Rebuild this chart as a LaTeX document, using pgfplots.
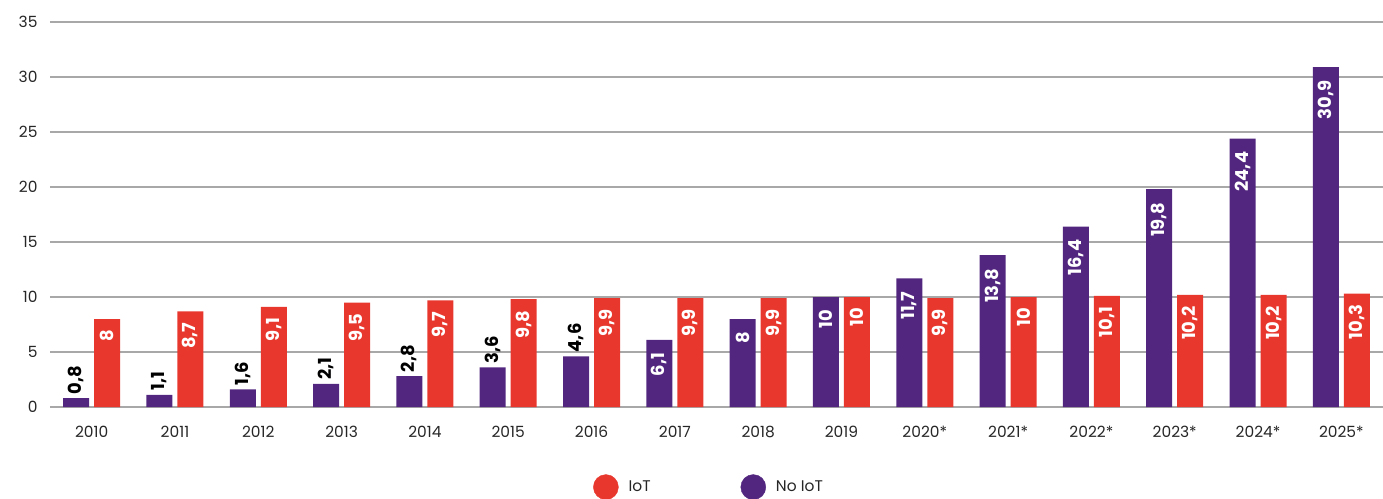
\documentclass[border=0pt]{standalone}
\usepackage{pgfplots}
\pgfplotsset{compat=1.18}
\usepackage{fontspec}
\setmainfont{Poppins}
\definecolor{iotred}{HTML}{E8382E}
\definecolor{noiot}{HTML}{52267F}
\definecolor{gridgray}{HTML}{A8A8A8}

\pgfplotstableread{
x y
0 0.8
1 1.1
2 1.6
3 2.1
4 2.8
5 3.6
6 4.6
}\noiotsmall
\pgfplotstableread{
x y
7 6.1
8 8
9 10
10 11.7
11 13.8
12 16.4
13 19.8
14 24.4
15 30.9
}\noiotlarge
\pgfplotstableread{
x y
0 8
1 8.7
2 9.1
3 9.5
4 9.7
5 9.8
6 9.9
7 9.9
8 9.9
9 10
10 9.9
11 10
12 10.1
13 10.2
14 10.2
15 10.3
}\iot

\begin{document}
\begin{tikzpicture}
\useasboundingbox (-50bp,-92bp) rectangle (1333bp,407bp);
\begin{axis}[
  at={(0bp,0bp)}, anchor=south west,
  scale only axis, width=1333bp, height=385bp,
  xmin=-0.5, xmax=15.5, ymin=0, ymax=35,
  ytick={0,5,...,35},
  xtick={0,...,15},
  xticklabels={2010,2011,2012,2013,2014,2015,2016,2017,2018,2019,2020*,2021*,2022*,2023*,2024*,2025*},
  axis line style={draw=none},
  major tick length=0pt,
  ymajorgrids,
  grid style={gridgray, line width=1.3bp},
  /pgf/number format/.cd, use comma, assume math mode=true, 1000 sep={},
  /pgfplots/.cd,
  tick label style={font=\fontsize{15.5}{17}\selectfont, text=black!85},
  yticklabel style={xshift=-9bp},
  xticklabel style={yshift=-16bp},
  legend style={at={(0.4944,-0.208)}, anchor=center, draw=none, fill=none,
    legend columns=2, font=\fontsize{15.5}{17}\selectfont, text=black!85,
    /tikz/every odd column/.append style={column sep=8bp},
    /tikz/every even column/.append style={column sep=88bp}},
]
\addlegendimage{legend image code/.code={\fill[iotred] (12.5bp,0bp) circle (12.5bp);}}
\addlegendentry{IoT}
\addlegendimage{legend image code/.code={\fill[noiot] (12.5bp,0bp) circle (12.5bp);}}
\addlegendentry{No IoT}

\addplot[ybar, bar width=26bp, bar shift=-15.5bp, fill=noiot, draw=none,
  nodes near coords,
  every node near coord/.append style={xshift=-15.5bp, rotate=90, anchor=west, text=black,
    font=\bfseries\fontsize{18}{18}\selectfont, inner sep=4bp}, forget plot]
  table[x=x, y=y] {\noiotsmall};
\addplot[ybar, bar width=26bp, bar shift=-15.5bp, fill=noiot, draw=none,
  nodes near coords,
  every node near coord/.append style={xshift=-15.5bp, rotate=90, anchor=east, text=white,
    font=\bfseries\fontsize{18}{18}\selectfont, inner ysep=3bp, inner xsep=13bp}, forget plot]
  table[x=x, y=y] {\noiotlarge};
\addplot[ybar, bar width=26bp, bar shift=15.5bp, fill=iotred, draw=none,
  nodes near coords,
  every node near coord/.append style={xshift=15.5bp, rotate=90, anchor=east, text=white,
    font=\bfseries\fontsize{18}{18}\selectfont, inner ysep=3bp, inner xsep=11bp}, forget plot]
  table[x=x, y=y] {\iot};
\end{axis}
\end{tikzpicture}
\end{document}
